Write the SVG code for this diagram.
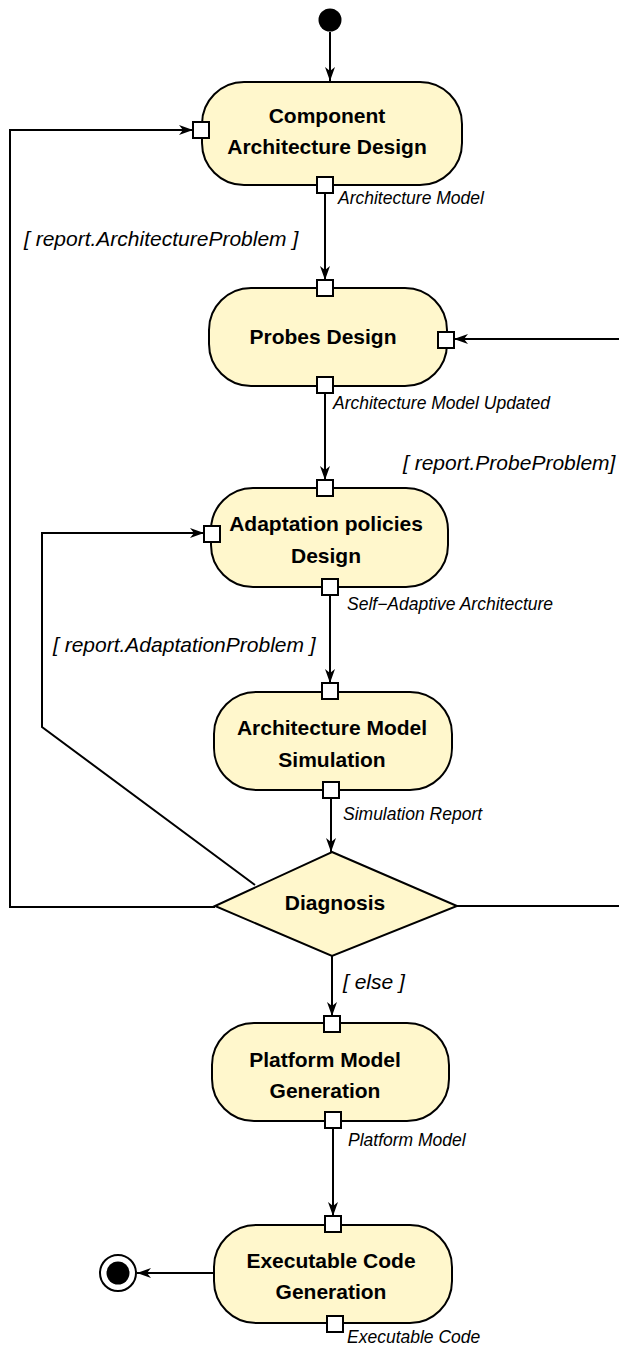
<svg xmlns="http://www.w3.org/2000/svg" width="619" height="1347" viewBox="0 0 619 1347">
<style>
.node{fill:#FFF7CC;stroke:#000;stroke-width:2}
.pin{fill:#fff;stroke:#000;stroke-width:2}
.t{font-family:"Liberation Sans",Arial,sans-serif;font-weight:bold;font-size:21px;text-anchor:middle;fill:#000}
.lbl{font-family:"Liberation Sans",Arial,sans-serif;font-style:italic;font-size:17.5px;fill:#000}
.grd{font-family:"Liberation Sans",Arial,sans-serif;font-style:italic;font-size:21px;fill:#000}
.c{fill:none;stroke:#000;stroke-width:2}
</style>
<defs>
<marker id="arr" markerUnits="userSpaceOnUse" markerWidth="14" markerHeight="10" refX="14" refY="5" orient="auto">
<path d="M0,0 L14,5 L0,10 L4,5 z" fill="#000"/>
</marker>
</defs>
<g id="connectors">
<path class="c" d="M330,32 L330,81" marker-end="url(#arr)"/>
<path class="c" d="M325,193 L325,280" marker-end="url(#arr)"/>
<path class="c" d="M325,393 L325,480" marker-end="url(#arr)"/>
<path class="c" d="M330,595 L330,683" marker-end="url(#arr)"/>
<path class="c" d="M331,798 L331,852" marker-end="url(#arr)"/>
<path class="c" d="M332,956 L332,1016" marker-end="url(#arr)"/>
<path class="c" d="M333,1128 L333,1216" marker-end="url(#arr)"/>
<path class="c" d="M213,1273 L137,1273" marker-end="url(#arr)"/>
<path class="c" d="M215,907 L10,907 L10,130 L193,130" marker-end="url(#arr)"/>
<path class="c" d="M255,885 L42,727 L42,533 L204,533" marker-end="url(#arr)"/>
<path class="c" d="M457,906 L630,906 L630,339 L454,339" marker-end="url(#arr)"/>
</g>
<g id="labels">
<text class="lbl" x="338" y="204">Architecture Model</text>
<text class="grd" x="24" y="246">[ report.ArchitectureProblem ]</text>
<text class="lbl" x="333" y="409">Architecture Model Updated</text>
<text class="grd" x="403" y="470">[ report.ProbeProblem]</text>
<text class="lbl" x="347" y="610">Self−Adaptive Architecture</text>
<text class="grd" x="53" y="652">[ report.AdaptationProblem ]</text>
<text class="lbl" x="343" y="820">Simulation Report</text>
<text class="grd" x="343" y="989">[ else ]</text>
<text class="lbl" x="348" y="1146">Platform Model</text>
<text class="lbl" x="347" y="1343">Executable Code</text>
</g>
<g id="initial">
<circle cx="330" cy="20" r="11.5" fill="#000"/>
</g>
<g id="component-architecture-design">
<rect class="node" x="202" y="82" width="260" height="103" rx="42" ry="42"/>
<text class="t" x="327" y="123">Component</text>
<text class="t" x="327" y="154">Architecture Design</text>
<rect class="pin" x="193" y="122" width="16" height="16"/>
<rect class="pin" x="317" y="177" width="16" height="16"/>
</g>
<g id="probes-design">
<rect class="node" x="209" y="288" width="238" height="98" rx="42" ry="42"/>
<text class="t" x="323" y="344">Probes Design</text>
<rect class="pin" x="317" y="280" width="16" height="16"/>
<rect class="pin" x="438" y="332" width="16" height="16"/>
<rect class="pin" x="317" y="377" width="16" height="16"/>
</g>
<g id="adaptation-policies-design">
<rect class="node" x="211" y="488" width="237" height="99" rx="42" ry="42"/>
<text class="t" x="326" y="531">Adaptation policies</text>
<text class="t" x="326" y="563">Design</text>
<rect class="pin" x="317" y="480" width="16" height="16"/>
<rect class="pin" x="204" y="526" width="16" height="16"/>
<rect class="pin" x="322" y="579" width="16" height="16"/>
</g>
<g id="architecture-model-simulation">
<rect class="node" x="214" y="692" width="238" height="98" rx="42" ry="42"/>
<text class="t" x="332" y="735">Architecture Model</text>
<text class="t" x="332" y="767">Simulation</text>
<rect class="pin" x="322" y="683" width="16" height="16"/>
<rect class="pin" x="323" y="782" width="16" height="16"/>
</g>
<g id="diagnosis">
<polygon class="node" points="332,852 457,906 332,956 215,906"/>
<text class="t" x="335" y="910">Diagnosis</text>
</g>
<g id="platform-model-generation">
<rect class="node" x="212" y="1023" width="237" height="98" rx="42" ry="42"/>
<text class="t" x="325" y="1067">Platform Model</text>
<text class="t" x="325" y="1098">Generation</text>
<rect class="pin" x="324" y="1016" width="16" height="16"/>
<rect class="pin" x="325" y="1112" width="16" height="16"/>
</g>
<g id="executable-code-generation">
<rect class="node" x="214" y="1225" width="238" height="98" rx="42" ry="42"/>
<text class="t" x="331" y="1268">Executable Code</text>
<text class="t" x="331" y="1299">Generation</text>
<rect class="pin" x="325" y="1216" width="16" height="16"/>
<rect class="pin" x="327" y="1316" width="16" height="16"/>
</g>
<g id="final">
<circle cx="118" cy="1273" r="18" fill="#fff" stroke="#000" stroke-width="2"/>
<circle cx="118" cy="1273" r="11.5" fill="#000"/>
</g>
</svg>
